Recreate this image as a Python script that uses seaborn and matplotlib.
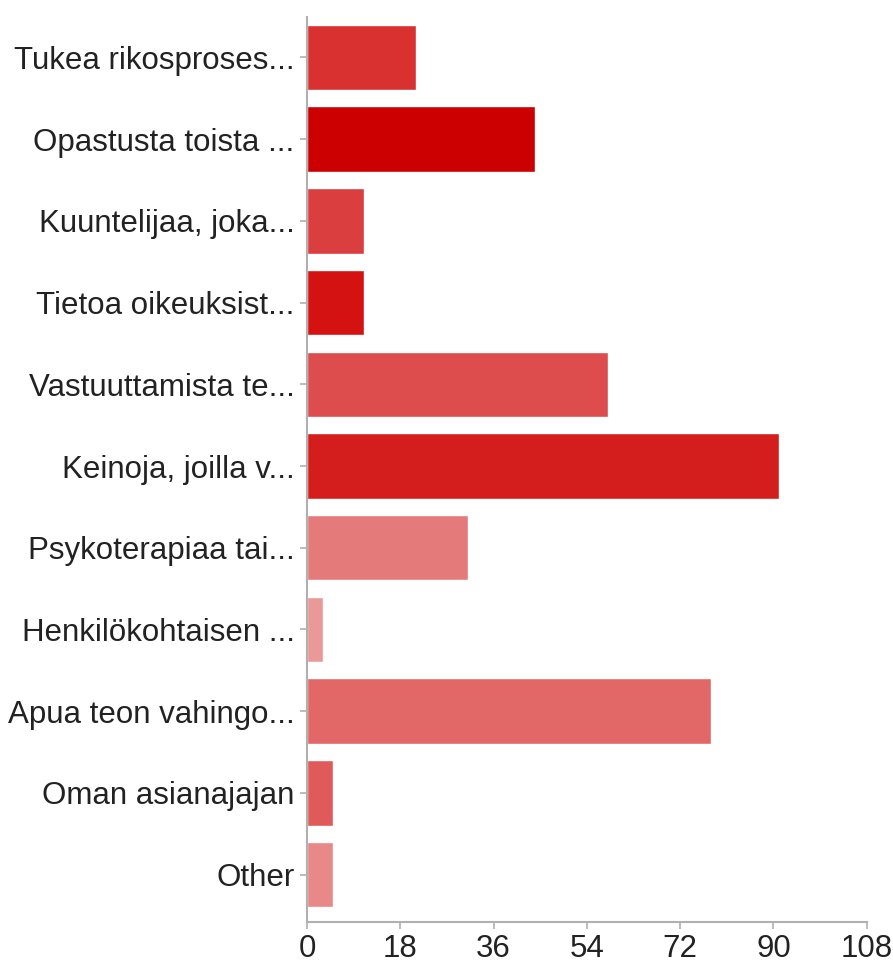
import pandas as pd
import matplotlib
matplotlib.use("Agg")
import matplotlib.pyplot as plt
import seaborn as sns

# answer options (labels truncated as in the survey chart)
labels = [
    "Tukea rikosproses...",
    "Opastusta toista ...",
    "Kuuntelijaa, joka...",
    "Tietoa oikeuksist...",
    "Vastuuttamista te...",
    "Keinoja, joilla v...",
    "Psykoterapiaa tai...",
    "Henkilökohtaisen ...",
    "Apua teon vahingo...",
    "Oman asianajajan",
    "Other",
]
counts = [21, 44, 11, 11, 58, 91, 31, 3, 78, 5, 5]
bar_colors = [
    "#d93030", "#cc0000", "#db3e3e", "#d41212", "#dd4d4d", "#d41e1e",
    "#e57a7a", "#eb9898", "#e26868", "#e05a5a", "#e88888",
]
x_ticks = [0, 18, 36, 54, 72, 90, 108]

df = pd.DataFrame({"label": labels, "count": counts})

sns.set_style("white")
plt.rcParams["font.family"] = ["Liberation Sans", "DejaVu Sans"]

fig = plt.figure(figsize=(8.93, 9.65), dpi=100)
ax = fig.add_axes([0.3438, 0.0446, 0.9705 - 0.3438, 0.9828 - 0.0446])

sns.barplot(data=df, y="label", x="count", hue="label", palette=bar_colors,
            legend=False, width=0.8, saturation=1, orient="h", ax=ax)

ax.set_xlim(0, 108)
ax.set_ylim(10.58, -0.5)
ax.set_xticks(x_ticks)
ax.set_xticklabels([str(t) for t in x_ticks])
ax.set_xlabel("")
ax.set_ylabel("")

for s in ["top", "right"]:
    ax.spines[s].set_visible(False)
for s in ["left", "bottom"]:
    ax.spines[s].set_color("#b0b0b0")
    ax.spines[s].set_linewidth(1.5)

ax.tick_params(axis="both", which="both", bottom=True, left=True, direction="out",
               length=5, width=1.2, color="#b0b0b0", labelsize=22.5,
               labelcolor="#222222", pad=4)

fig.savefig("out.png", dpi=100)
